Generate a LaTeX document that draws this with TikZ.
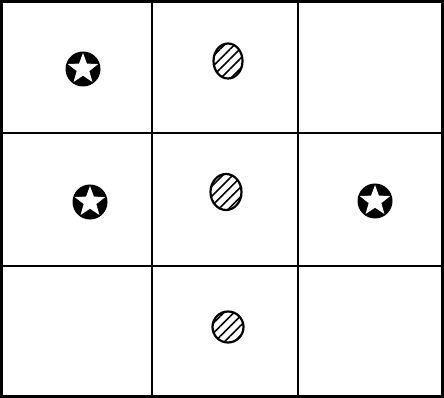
\documentclass[tikz,border=0pt]{standalone}
\usetikzlibrary{shapes.geometric,patterns.meta}
\begin{document}
\begin{tikzpicture}[x=1pt,y=-1pt,
  gridline/.style={line width=2.6pt,black},
  starbg/.style={circle,fill=black,minimum size=35pt,inner sep=0pt},
  starfg/.style={star,star points=5,star point ratio=2.4,fill=white,minimum size=32pt,inner sep=0pt},
  hatch/.style={ellipse,draw=black,line width=2.2pt,inner sep=0pt,
     pattern={Lines[angle=45,distance=7pt,line width=1.6pt]}}
]
\useasboundingbox (0,0) rectangle (444,398);
% grid
\draw[gridline] (1.3,1.3) rectangle (442.7,396.7);
\draw[gridline] (152,0) -- (152,398);
\draw[gridline] (298,0) -- (298,398);
\draw[gridline] (0,133) -- (444,133);
\draw[gridline] (0,266) -- (444,266);
% stars
\node[starbg] (c1) at (83,69) {};
\node[starfg] (s1) at (c1) {};
\node[starbg] (c2) at (90,202) {};
\node[starfg] (s2) at (c2) {};
\node[starbg] (c3) at (375,201) {};
\node[starfg] (s3) at (c3) {};
% hatched ellipses
\node[hatch,minimum width=29pt,minimum height=35pt] (h1) at (228,61) {};
\node[hatch,minimum width=31pt,minimum height=36pt] (h2) at (226,192) {};
\node[hatch,minimum width=31pt,minimum height=31pt] (h3) at (228,327) {};
\end{tikzpicture}
\end{document}
